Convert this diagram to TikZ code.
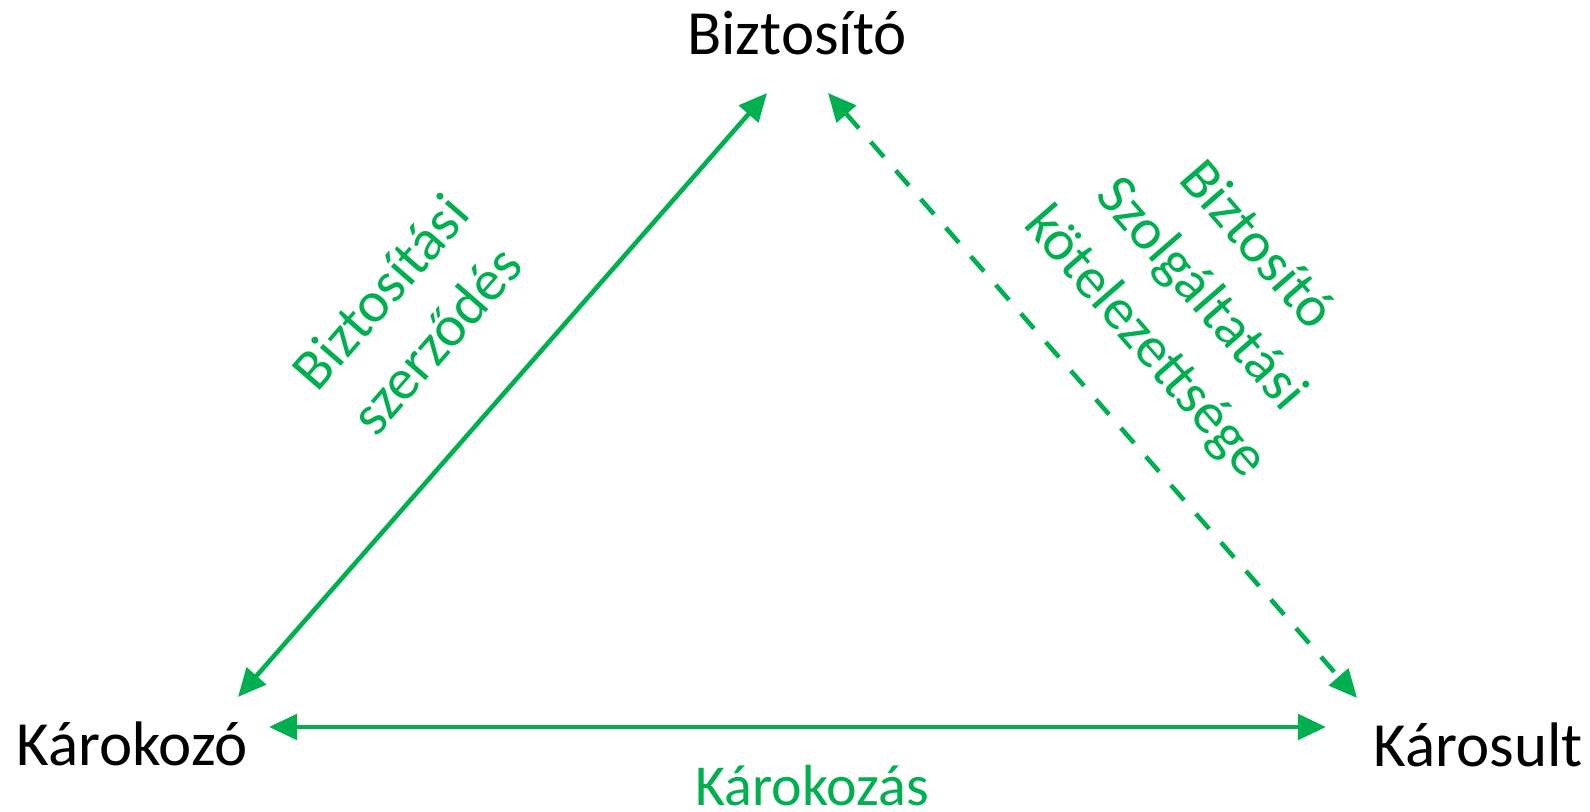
\documentclass[tikz,border=0pt]{standalone}
\usepackage{fontspec}
\setmainfont{Carlito}
\usepackage{tikz}
\usetikzlibrary{arrows.meta, positioning}
\definecolor{offgreen}{RGB}{0,176,80}

\begin{document}
\begin{tikzpicture}[party/.style={inner sep=0, anchor=base, font=\fontsize{17.9}{21.5}\selectfont},
	relation/.style={offgreen, inner sep=0, align=center, font=\fontsize{16.5}{20.9}\selectfont},
	link/.style={offgreen, line width=1.3pt, {Triangle[length=8pt,width=7.2pt]}-{Triangle[length=8pt,width=7.2pt]}}]
	\useasboundingbox (0,0) rectangle (15.9,8.12);
	\node[party] (bizt) at (7.97,7.57) {Biztosító};
	\node[party] (kok) at (1.32,0.46) {Károkozó};
	\node[party] (kar) at (14.78,0.45) {Károsult};
	%% arrow ends next to the three parties
	\coordinate (bizt-l) at (7.67,7.19);
	\coordinate (bizt-r) at (8.28,7.19);
	\coordinate (kok-t) at (2.38,1.15);
	\coordinate (kok-r) at (2.69,0.85);
	\coordinate (kar-t) at (13.57,1.14);
	\coordinate (kar-l) at (13.26,0.85);
	\draw [link] (kok-t) -- (bizt-l);
	\draw [link, dash pattern=on 0.2cm off 0.18cm] (bizt-r) -- (kar-t);
	\draw [link] (kok-r) -- (kar-l);

	\node[relation, rotate=49] (szerz) at (4.08,4.96) {Biztosítási\\szerződés};
	\node[relation, rotate=-49] (szolg) at (12.0,5.17) {Biztosító\\Szolgáltatási\\kötelezettsége};
	\node[relation, anchor=base] (karok) at (8.12,0.06) {Károkozás};
\end{tikzpicture}
\end{document}
